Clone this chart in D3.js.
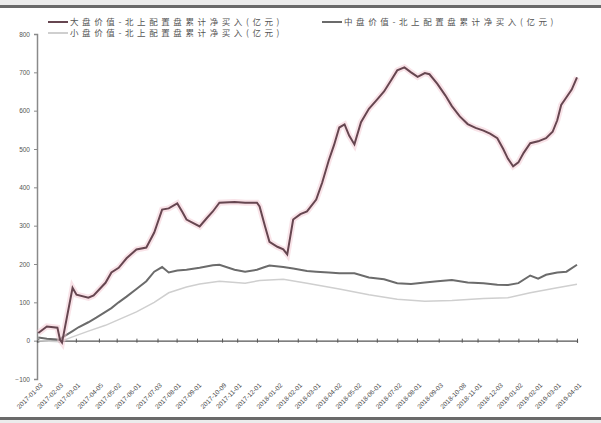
<!DOCTYPE html>
<html>
<head>
<meta charset="utf-8">
<script src="https://cdn.jsdelivr.net/npm/d3@7/dist/d3.min.js"></script>
<style>
  html, body { margin: 0; padding: 0; background: #fff; }
  svg { display: block; }
</style>
</head>
<body>
<svg id="chart" width="601" height="423"></svg>
<script>
// Cumulative northbound net buying of value styles (100 million yuan)
const seriesNames = [
  "大盘价值-北上配置盘累计净买入(亿元)",
  "中盘价值-北上配置盘累计净买入(亿元)",
  "小盘价值-北上配置盘累计净买入(亿元)"
];

const largeDates = [
  "2017-01-03","2017-01-16","2017-02-01","2017-02-05","2017-02-08","2017-02-24","2017-03-02","2017-03-20",
  "2017-03-28","2017-04-15","2017-04-24","2017-05-05","2017-05-17","2017-06-01","2017-06-16","2017-06-28",
  "2017-07-10","2017-07-20","2017-08-02","2017-08-10","2017-08-16","2017-09-05","2017-09-16","2017-09-25",
  "2017-10-05","2017-10-28","2017-11-13","2017-12-01","2017-12-05","2017-12-13","2017-12-20","2018-01-01",
  "2018-01-10","2018-01-16","2018-01-25","2018-02-05","2018-02-15","2018-03-01","2018-03-10","2018-03-20",
  "2018-03-28","2018-04-05","2018-04-13","2018-04-20","2018-04-28","2018-05-08","2018-05-20","2018-06-02",
  "2018-06-12","2018-06-23","2018-07-02","2018-07-13","2018-07-23","2018-08-02","2018-08-13","2018-08-20",
  "2018-09-01","2018-09-13","2018-09-23","2018-10-05","2018-10-17","2018-10-29","2018-11-10","2018-11-20",
  "2018-12-01","2018-12-10","2018-12-17","2018-12-25","2019-01-02","2019-01-10","2019-01-20","2019-02-01",
  "2019-02-13","2019-02-23","2019-03-02","2019-03-08","2019-03-16","2019-03-24","2019-04-01"
];
const largeValues = [
  20, 37, 34, 2, -5, 138, 120, 112,
  118, 151, 178, 190, 215, 238, 243, 282,
  342, 345, 358, 335, 316, 298, 320, 337,
  360, 362, 360, 360, 350, 300, 258, 245,
  238, 225, 316, 330, 337, 368, 412, 470,
  510, 556, 564, 535, 512, 570, 605, 630,
  650, 680, 705, 713, 700, 688, 698, 695,
  670, 640, 612, 585, 565, 555, 548, 540,
  528, 500, 475, 455, 465, 490, 515, 520,
  528, 545, 575, 615, 635, 655, 687
];

const midDates = [
  "2017-01-03","2017-01-16","2017-02-01","2017-02-05","2017-02-08","2017-02-24","2017-03-05","2017-03-20",
  "2017-04-01","2017-04-15","2017-04-24","2017-05-05","2017-05-17","2017-06-01","2017-06-16","2017-06-28",
  "2017-07-10","2017-07-20","2017-08-02","2017-08-16","2017-09-05","2017-09-25","2017-10-05","2017-10-28",
  "2017-11-13","2017-12-01","2017-12-13","2017-12-20","2018-01-10","2018-01-25","2018-02-15","2018-03-01",
  "2018-03-20","2018-04-05","2018-04-28","2018-05-20","2018-06-12","2018-07-02","2018-07-23","2018-08-13",
  "2018-09-01","2018-09-23","2018-10-17","2018-11-10","2018-12-01","2018-12-17","2019-01-02","2019-01-20",
  "2019-02-01","2019-02-13","2019-03-02","2019-03-16","2019-04-01"
];
const midValues = [
  8, 5, 3, 2, 8, 25, 35, 48,
  60, 75, 85, 100, 115, 135, 155, 180,
  192, 178, 183, 185, 190, 197, 198, 185,
  180, 185, 192, 196, 192, 188, 182, 180,
  178, 176, 176, 165, 160, 150, 148, 152,
  155, 158, 152, 150, 146, 145, 150, 170,
  162, 172, 178, 180, 198
];

const smallDates = [
  "2017-01-03","2017-02-05","2017-02-24","2017-03-20","2017-04-15","2017-05-05","2017-06-01","2017-06-28",
  "2017-07-20","2017-08-16","2017-09-05","2017-10-05","2017-11-13","2017-12-05","2018-01-10","2018-02-15",
  "2018-04-05","2018-05-20","2018-07-02","2018-08-13","2018-09-23","2018-11-10","2018-12-17","2019-01-20",
  "2019-03-02","2019-04-01"
];
const smallValues = [
  0, -3, 10, 25, 40, 55, 75, 100,
  125, 140, 148, 155, 150, 157, 160, 150,
  135, 120, 108, 103, 105, 110, 112, 125,
  138, 147
];

const yTicks = [-100, 0, 100, 200, 300, 400, 500, 600, 700, 800];

const xTickLabels = [
  "2017-01-03","2017-02-03","2017-03-01","2017-04-05","2017-05-02","2017-06-01","2017-07-03",
  "2017-08-01","2017-09-01","2017-10-09","2017-11-01","2017-12-01","2018-01-02","2018-02-01",
  "2018-03-01","2018-04-02","2018-05-02","2018-06-01","2018-07-02","2018-08-01","2018-09-03",
  "2018-10-08","2018-11-01","2018-12-03","2019-01-02","2019-02-01","2019-03-01","2019-04-01"
];

const parse = d3.timeParse("%Y-%m-%d");
const svg = d3.select("#chart");
const W = 601, H = 423;
const margin = { left: 37, right: 24, top: 34, bottom: 44 };

const x = d3.scaleTime()
  .domain([parse("2017-01-01"), parse("2019-04-01")])
  .range([margin.left, W - margin.right]);
const y = d3.scaleLinear()
  .domain([-100, 800])
  .range([H - margin.bottom, margin.top]);

// frame rules at top and bottom of the graphic
svg.append("rect").attr("x", 0).attr("y", 0).attr("width", W).attr("height", 5).attr("fill", "#ececec");
svg.append("rect").attr("x", 0).attr("y", 5).attr("width", W).attr("height", 3).attr("fill", "#6a6a6a");
svg.append("rect").attr("x", 0).attr("y", 417).attr("width", W).attr("height", 3).attr("fill", "#6a6a6a");
svg.append("rect").attr("x", 0).attr("y", 420).attr("width", W).attr("height", 3).attr("fill", "#ececec");

// y axis
const yAxis = d3.axisLeft(y).tickValues(yTicks).tickSize(3).tickPadding(4);
const gy = svg.append("g").attr("transform", `translate(${margin.left},0)`).call(yAxis);
gy.select(".domain").attr("stroke", "#8a8a8a").attr("stroke-width", 1.5);
gy.selectAll(".tick line").attr("stroke", "#8a8a8a");
gy.selectAll(".tick text")
  .attr("fill", "#555")
  .style("font-family", "'Liberation Sans', Arial, sans-serif")
  .style("font-size", "6.5px");

// zero baseline as category axis with tick marks
const xAxis = d3.axisBottom(x)
  .tickValues(xTickLabels.map(parse))
  .tickSize(2)
  .tickFormat("");
const gx0 = svg.append("g").attr("transform", `translate(0,${y(0)})`).call(xAxis);
gx0.select(".domain").attr("stroke", "#555").attr("stroke-width", 1.2);
gx0.selectAll(".tick line").attr("stroke", "#555").attr("y1", -2);

// date labels below the plot, rotated
const gxl = svg.append("g").attr("transform", `translate(0,${y(-100) + 4})`);
gxl.selectAll("text")
  .data(xTickLabels)
  .join("text")
  .attr("transform", d => `translate(${x(parse(d)) + 2},0) rotate(-45)`)
  .attr("text-anchor", "end")
  .attr("dy", "0.6em")
  .attr("fill", "#4a4a4a")
  .style("font-family", "'Liberation Sans', Arial, sans-serif")
  .style("font-size", "6.5px")
  .text(d => d);

// series lines
const line = d3.line()
  .x(d => x(d[0]))
  .y(d => y(d[1]));

const small = smallDates.map((d, i) => [parse(d), smallValues[i]]);
const mid = midDates.map((d, i) => [parse(d), midValues[i]]);
const large = largeDates.map((d, i) => [parse(d), largeValues[i]]);

svg.append("path").datum(small).attr("d", line)
  .attr("fill", "none").attr("stroke", "#cfcfcf").attr("stroke-width", 1.5);
svg.append("path").datum(mid).attr("d", line)
  .attr("fill", "none").attr("stroke", "#6b6b6b").attr("stroke-width", 2);
svg.append("path").datum(large).attr("d", line)
  .attr("fill", "none").attr("stroke", "#f3c7d2").attr("stroke-width", 6).attr("stroke-opacity", 0.5);
svg.append("path").datum(large).attr("d", line)
  .attr("fill", "none").attr("stroke", "#664650").attr("stroke-width", 2);

// legend
const legend = [
  { name: seriesNames[0], color: "#664650", lx: 48, ly: 22 },
  { name: seriesNames[1], color: "#6b6b6b", lx: 322, ly: 22 },
  { name: seriesNames[2], color: "#cfcfcf", lx: 48, ly: 33 }
];
const lg = svg.append("g");
legend.forEach(l => {
  lg.append("line")
    .attr("x1", l.lx).attr("x2", l.lx + 20)
    .attr("y1", l.ly).attr("y2", l.ly)
    .attr("stroke", l.color).attr("stroke-width", 2);
  lg.append("text")
    .attr("x", l.lx + 22).attr("y", l.ly + 3)
    .attr("fill", "#555")
    .style("font-family", "'Noto Sans CJK SC', sans-serif")
    .style("font-size", "8.5px")
    .style("letter-spacing", "3.6px")
    .text(l.name);
});
</script>
</body>
</html>
